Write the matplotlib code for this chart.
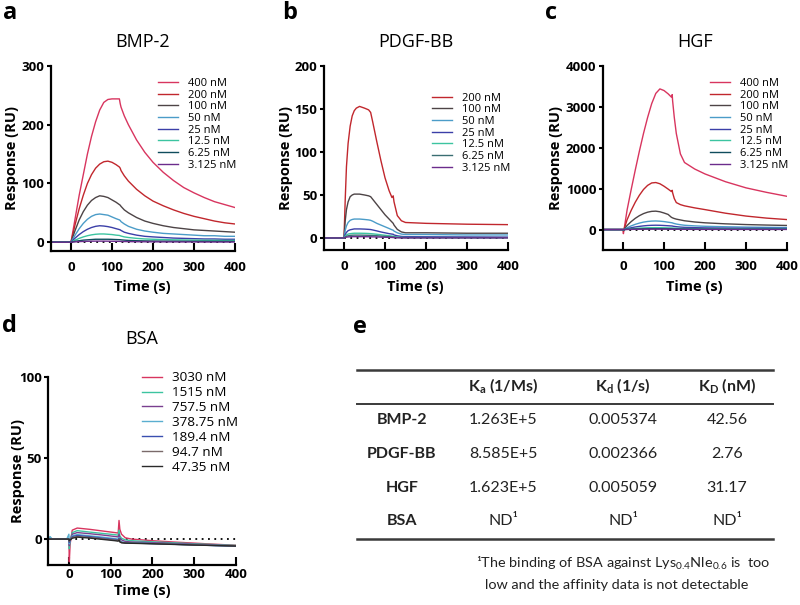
import matplotlib
matplotlib.use('Agg')
import matplotlib.pyplot as plt
from matplotlib.lines import Line2D

plt.rcParams['font.family'] = ['Open Sans', 'DejaVu Sans']
plt.rcParams['mathtext.fontset'] = 'custom'
plt.rcParams['mathtext.rm'] = 'Lato'
plt.rcParams['mathtext.bf'] = 'Lato:bold'
plt.rcParams['mathtext.it'] = 'Lato:italic'

# ---------------- data ----------------
# colours
C400 = '#d8355f'; C200 = '#c1272d'; C100 = '#4d4446'; C50 = '#4b9cc8'
C25 = '#3b3fa8'; C12 = '#3cc4a0'; C6 = '#0f4c5c'; C3 = '#6b2c8c'

# Panel a: BMP-2
t_a = [-50, 0, 10, 20, 30, 40, 50, 60, 70, 80, 90, 100, 110, 118, 120, 122, 130,
       140, 160, 180, 200, 225, 250, 275, 300, 325, 350, 375, 400]
bmp_labels = ['400 nM', '200 nM', '100 nM', '50 nM', '25 nM', '12.5 nM', '6.25 nM', '3.125 nM']
bmp_400 = [0, 0, 40, 80, 115, 150, 180, 205, 225, 238, 243, 244, 244, 244, 236, 230, 215,
           200, 174, 153, 136, 119, 105, 93, 84, 76, 69, 64, 59]
bmp_200 = [0, 0, 30, 57, 80, 100, 115, 126, 133, 137, 138, 136, 132, 128, 126, 122, 113,
           104, 90, 79, 70, 62, 55, 49, 44, 40, 36, 33, 31]
bmp_100 = [0, 0, 20, 38, 52, 63, 71, 76, 79, 78, 76, 72, 68, 64, 63, 61, 55,
           50, 42, 36, 32, 28, 25, 23, 21, 20, 19, 18, 17]
bmp_50 = [0, 0, 12, 23, 32, 39, 44, 47, 48, 47, 46, 43, 40, 38, 37, 35, 31,
          27, 22, 19, 17, 15, 14, 13, 12, 11, 11, 10, 10]
bmp_25 = [0, 0, 7, 13, 18, 22, 25, 27, 28, 27.5, 26.5, 25, 23, 21.5, 21, 20, 17,
          15, 12, 10, 9, 8, 7, 6.5, 6, 5.5, 5.5, 5, 5]
bmp_12 = [0, 0, 3.5, 6.5, 9, 11, 12.5, 13.5, 14, 14, 13.5, 13, 12, 11.5, 11, 10.5, 9,
          8, 6.5, 5.5, 5, 4.5, 4, 3.8, 3.5, 3.3, 3.2, 3.0, 3.0]
bmp_6 = [0, 0, 1.5, 2.5, 3.5, 4, 4.5, 5, 5, 5, 5, 4.8, 4.5, 4.3, 4.2, 4, 3.5,
         3, 2.5, 2.2, 2, 1.8, 1.7, 1.6, 1.5, 1.5, 1.4, 1.4, 1.3]
bmp_3 = [0, 0, 0.5, 1, 1.3, 1.5, 1.7, 1.8, 1.8, 1.8, 1.7, 1.6, 1.5, 1.4, 1.4, 1.3, 1.1,
         1, 0.8, 0.7, 0.6, 0.5, 0.5, 0.4, 0.4, 0.3, 0.3, 0.3, 0.3]

# Panel b: PDGF-BB
t_b = [-50, 0, 3, 6, 10, 15, 20, 25, 30, 38, 50, 60, 65, 70, 80, 90, 100, 110, 117,
       120, 122, 130, 140, 150, 200, 300, 400]
pdgf_labels = ['200 nM', '100 nM', '50 nM', '25 nM', '12.5 nM', '6.25 nM', '3.125 nM']
pdgf_200 = [0, 0, 45, 83, 110, 130, 142, 148, 151, 153, 151, 149, 146, 135, 112, 90, 70, 55, 47,
            49, 42, 26, 20, 18, 17, 16, 15.5]
pdgf_100 = [0, 0, 20, 33, 42, 48, 50, 51, 51, 51, 50, 49, 48, 45, 39, 33, 27, 22, 18.5,
            17, 15, 10, 7, 6, 6, 5.5, 5.5]
pdgf_50 = [0, 0, 9, 14, 18, 20.5, 21.5, 22, 22, 22, 21.5, 21, 20.5, 19.5, 17, 15, 13, 11, 9.5,
           9, 8, 6, 4.5, 4, 4, 3.5, 3.5]
pdgf_25 = [0, 0, 4, 6.5, 8.5, 9.5, 10, 10.5, 10.5, 10.5, 10.3, 10, 9.8, 9.3, 8.2, 7, 6, 5, 4.5,
           4.3, 3.5, 2.5, 1.8, 1.5, 1.4, 1.2, 1.0]
pdgf_12 = [0, 0, 2, 3.5, 4.5, 5, 5.3, 5.5, 5.5, 5.5, 5.4, 5.2, 5, 4.8, 4.3, 3.7, 3.1, 2.6, 2.2,
           2, 1.6, 1, 0.7, 0.5, 0.5, 0.4, 0.4]
pdgf_6 = [0, 0, 1, 2, 2.5, 3, 3.2, 3.3, 3.3, 3.3, 3.2, 3.1, 3, 2.9, 2.6, 2.2, 1.8, 1.5, 1.3,
          1.2, 1, 0.6, 0.4, 0.3, 0.3, 0.3, 0.3]
pdgf_3 = [0, 0, 0.5, 1, 1.2, 1.4, 1.5, 1.5, 1.5, 1.5, 1.5, 1.4, 1.4, 1.3, 1.2, 1, 0.8, 0.7, 0.6,
          0.5, 0.4, 0.2, 0.1, 0.1, 0.1, 0.1, 0.1]

# Panel c: HGF
t_c = [-50, 0, 1, 10, 20, 30, 40, 50, 60, 70, 80, 90, 100, 110, 118, 120, 121, 125, 130,
       140, 150, 175, 200, 250, 300, 350, 400]
hgf_labels = ['400 nM', '200 nM', '100 nM', '50 nM', '25 nM', '12.5 nM', '6.25 nM', '3.125 nM']
hgf_400 = [0, 0, -100, 480, 980, 1460, 1920, 2350, 2740, 3080, 3330, 3440, 3400, 3320, 3240,
           3300, 3150, 2750, 2350, 1850, 1640, 1480, 1360, 1170, 1020, 910, 813]
hgf_200 = [0, 0, -40, 240, 470, 670, 840, 980, 1080, 1140, 1150, 1120, 1060, 990, 930,
           960, 900, 760, 660, 610, 580, 530, 488, 400, 330, 280, 244]
hgf_100 = [0, 0, -20, 100, 195, 275, 340, 390, 425, 445, 450, 435, 405, 370, 300,
           290, 285, 270, 255, 235, 215, 185, 165, 140, 122, 110, 100]
hgf_50 = [0, 0, -10, 45, 90, 128, 158, 182, 198, 207, 210, 205, 195, 180, 168,
          165, 160, 148, 135, 118, 105, 90, 80, 68, 60, 54, 50]
hgf_25 = [0, 0, -5, 22, 44, 63, 78, 90, 99, 104, 106, 104, 99, 93, 88,
          87, 84, 77, 70, 60, 54, 46, 41, 36, 32, 30, 28]
hgf_12 = [0, 0, -2, 10, 20, 28, 35, 40, 44, 46, 47, 46, 44, 41, 39,
          38, 37, 34, 31, 27, 24, 21, 19, 17, 15, 14, 13]
hgf_6 = [0, 0, -1, 5, 9, 13, 16, 18, 20, 21, 21, 21, 20, 19, 18,
         18, 17, 16, 14, 12, 11, 10, 9, 8, 7, 7, 6]
hgf_3 = [0, 0, 0, 2, 4, 6, 7, 8, 9, 10, 10, 10, 9.5, 9, 8.5,
         8.5, 8, 7.5, 7, 6, 5.5, 5, 4.5, 4, 3.5, 3.3, 3]

# Panel d: BSA
t_d = [-50, -45, -40, -5, 0, 1, 3, 8, 20, 50, 80, 110, 118, 120, 122, 126, 135, 150,
       200, 250, 300, 350, 400]
bsa_labels = ['3030 nM', '1515 nM', '757.5 nM', '378.75 nM', '189.4 nM', '94.7 nM', '47.35 nM']
bsa_3030 = [0, 0, 0, 0, 0, -14, -3, 5.5, 6.8, 6.0, 5.0, 4.0, 3.7, 11.5, 6, 3, 0.8, 0,
            -1, -1.8, -2.5, -3.2, -3.8]
bsa_1515 = [0, 0, 0, 0, 0, -6, -1, 4, 5.2, 4.3, 3.5, 2.7, 2.4, 5.5, 2, 0.5, -0.5, -1,
            -1.7, -2.3, -2.9, -3.4, -3.9]
bsa_757 = [0, 0, 0, 0, 0, -4, -1, 3, 4, 3.3, 2.5, 1.6, 1.3, 3, 0.5, -0.5, -1.5, -1.8,
           -2.2, -2.7, -3.2, -3.7, -4.1]
bsa_378 = [0, 1.5, 0, 0, 3, -3, -1, 2, 2.8, 2, 1.2, 0.3, 0, 1, -1, -1.8, -2.2, -2.3,
           -2.7, -3.1, -3.6, -4.0, -4.4]
bsa_189 = [0, 0, 0, 0, 0, -2, -1, 1.5, 2.2, 1.5, 0.6, -0.2, -0.5, 0.5, -1.2, -2, -2.3, -2.4,
           -2.8, -3.2, -3.6, -4.0, -4.3]
bsa_94 = [0, 0, 0, 0, 0, -1.5, -0.5, 1, 1.6, 1, 0.2, -0.6, -0.9, 0, -1.5, -2.1, -2.4, -2.5,
          -2.8, -3.2, -3.6, -3.9, -4.2]
bsa_47 = [0, 0, 0, 0, 0, -1, -0.5, 0.5, 1.2, 0.6, -0.2, -1, -1.3, -0.5, -1.8, -2.3, -2.5, -2.6,
          -2.9, -3.3, -3.7, -4.0, -4.3]

# buffer (0 nM) reference trace
t_buf = [0, 400]
buf = [0, 0]

# Panel e: table
proteins = ['BMP-2', 'PDGF-BB', 'HGF', 'BSA']
ka_vals = ['1.263E+5', '8.585E+5', '1.623E+5', 'ND¹']
kd_vals = ['0.005374', '0.002366', '0.005059', 'ND¹']
KD_vals = ['42.56', '2.76', '31.17', 'ND¹']
headers = [r'K$_{\mathregular{a}}$ (1/Ms)', r'K$_{\mathregular{d}}$ (1/s)', r'K$_{\mathregular{D}}$ (nM)']
foot1 = r'¹The binding of BSA against Lys$_{\mathregular{0.4}}$Nle$_{\mathregular{0.6}}$ is  too'
foot2 = 'low and the affinity data is not detectable'

# ---------------- figure ----------------
W, H = 800, 605
fig = plt.figure(figsize=(8, 6.05), dpi=100)


def fx(x):
    return x / W


def fy(y):
    return 1 - y / H


def add_ax(l, t, r, b):
    return fig.add_axes([l / W, 1 - b / H, (r - l) / W, (b - t) / H])


def style(ax, ylim, yticks, xpad, ylab_x, xlab_y):
    ax.set_xlim(-50, 400)
    ax.set_ylim(*ylim)
    ax.set_xticks([0, 100, 200, 300, 400])
    ax.set_yticks(yticks)
    for s in ['top', 'right']:
        ax.spines[s].set_visible(False)
    for s in ['left', 'bottom']:
        ax.spines[s].set_linewidth(1.6)
    ax.tick_params(axis='x', direction='in', length=6, width=1.5, pad=xpad, labelsize=9.5)
    ax.tick_params(axis='y', direction='out', length=3, width=1.5, pad=1.5, labelsize=9.5)
    for lab in ax.get_xticklabels() + ax.get_yticklabels():
        lab.set_fontweight('bold')
    ax.set_ylabel('Response (RU)', fontsize=10.5, fontweight='bold', va='center')
    ax.yaxis.set_label_coords(ylab_x, 0.5)
    ax.set_xlabel('Time (s)', fontsize=10.5, fontweight='bold', va='center')
    ax.xaxis.set_label_coords(0.5, xlab_y)
    ax.plot(t_buf, buf, color='black', lw=1.3, ls=(0, (1, 2.5)), zorder=1)


def draw(ax, t, series, colors, labels, legpos, fs, spacing, hlen, hpad):
    handles = []
    for v, c in zip(series, colors):
        h, = ax.plot(t, v, color=c, lw=1.0)
        handles.append(h)
    ax.legend(handles, labels, loc='upper left', bbox_to_anchor=legpos, frameon=False,
              fontsize=fs, handlelength=hlen, handletextpad=hpad, labelspacing=spacing,
              borderpad=0, borderaxespad=0)


# a
ax_a = add_ax(50.5, 66, 235, 251)
style(ax_a, (-15, 300), [0, 100, 200, 300], 7, -0.209, -0.195)
draw(ax_a, t_a, [bmp_400, bmp_200, bmp_100, bmp_50, bmp_25, bmp_12, bmp_6, bmp_3],
     [C400, C200, C100, C50, C25, C12, C6, C3], bmp_labels, (0.583, 0.935), 8, 0.06, 1.8, 0.9)
ax_a.set_title('BMP-2', fontsize=13, pad=14)

# b
ax_b = add_ax(323.5, 66, 508, 250)
style(ax_b, (-14, 200), [0, 50, 100, 150, 200], 7, -0.203, -0.2)
draw(ax_b, t_b, [pdgf_200, pdgf_100, pdgf_50, pdgf_25, pdgf_12, pdgf_6, pdgf_3],
     [C200, C100, C50, C25, C12, '#3a6e72', C3], pdgf_labels, (0.59, 0.855), 8, 0.06, 1.8, 0.9)
ax_b.set_title('PDGF-BB', fontsize=13, pad=14)

# c
ax_c = add_ax(602.5, 66, 787, 250)
style(ax_c, (-500, 4000), [0, 1000, 2000, 3000, 4000], 7, -0.252, -0.2)
draw(ax_c, t_c, [hgf_400, hgf_200, hgf_100, hgf_50, hgf_25, hgf_12, hgf_6, hgf_3],
     [C400, C200, C100, C50, C25, C12, C6, C3], hgf_labels, (0.585, 0.935), 8, 0.06, 1.8, 0.9)
ax_c.set_title('HGF', fontsize=13, pad=14)

# d
ax_d = add_ax(48, 377, 236, 565)
style(ax_d, (-16, 100), [0, 50, 100], 2.5, -0.16, -0.138)
draw(ax_d, t_d, [bsa_3030, bsa_1515, bsa_757, bsa_378, bsa_189, bsa_94, bsa_47],
     [C400, C12, '#7a3f8f', '#5aaed0', '#3a4fb0', '#7a6a6a', '#2a2a2a'], bsa_labels,
     (0.5, 1.03), 9.7, 0.14, 1.5, 0.75)
ax_d.set_title('BSA', fontsize=13, pad=24)

# panel letters
for letter, x, y in [('a', 3, 13), ('b', 282, 13), ('c', 545, 13), ('d', 2, 326), ('e', 353, 327)]:
    fig.text(fx(x), fy(y), letter, fontsize=17, fontweight='bold', ha='left', va='center')

# e: table
tcol = '#222222'
line_kw = dict(transform=fig.transFigure, color='#3a3a3a')
fig.add_artist(Line2D([fx(357), fx(773)], [fy(370), fy(370)], lw=1.8, **line_kw))
fig.add_artist(Line2D([fx(357), fx(773)], [fy(404), fy(404)], lw=1.4, **line_kw))
fig.add_artist(Line2D([fx(357), fx(773)], [fy(539), fy(539)], lw=1.8, **line_kw))

col_x = [503, 623, 727]
row_y = [420, 454, 488, 521]
tfont = ['Lato', 'DejaVu Sans']
for h, x in zip(headers, col_x):
    fig.text(fx(x), fy(386), h, fontsize=11.5, fontweight='bold', family=tfont,
             ha='center', va='center', color=tcol)
for i, y in enumerate(row_y):
    fig.text(fx(402), fy(y), proteins[i], fontsize=11.5, fontweight='bold', family=tfont,
             ha='center', va='center', color=tcol)
    for vals, x in zip([ka_vals, kd_vals, KD_vals], col_x):
        fig.text(fx(x), fy(y), vals[i], fontsize=11.5, family=tfont,
                 ha='center', va='center', color=tcol)
fig.text(fx(623), fy(563), foot1, fontsize=10.4, family=tfont, ha='center', va='center', color=tcol)
fig.text(fx(617), fy(585), foot2, fontsize=10.4, family=tfont, ha='center', va='center', color=tcol)

fig.savefig('out.png', dpi=100)
